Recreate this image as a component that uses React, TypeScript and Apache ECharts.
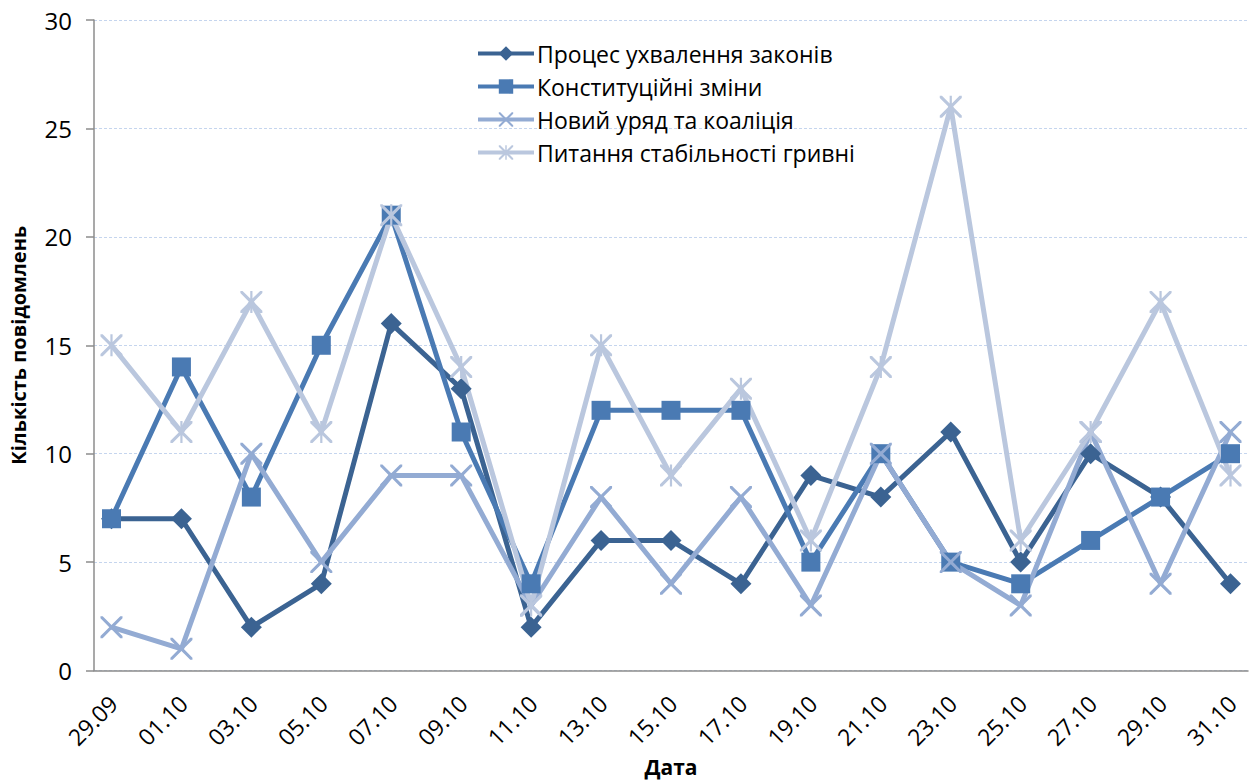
import React, { useEffect, useRef } from "react";
import * as echarts from "echarts";

// Every calendar day on the axis; the survey was taken every second day.
const days = [
  "29.09", "30.09", "01.10", "02.10", "03.10", "04.10", "05.10", "06.10",
  "07.10", "08.10", "09.10", "10.10", "11.10", "12.10", "13.10", "14.10",
  "15.10", "16.10", "17.10", "18.10", "19.10", "20.10", "21.10", "22.10",
  "23.10", "24.10", "25.10", "26.10", "27.10", "28.10", "29.10", "30.10",
  "31.10",
];

const surveyDates = [
  "29.09", "01.10", "03.10", "05.10", "07.10", "09.10", "11.10", "13.10",
  "15.10", "17.10", "19.10", "21.10", "23.10", "25.10", "27.10", "29.10",
  "31.10",
];

const seriesNames = [
  "Процес ухвалення законів",
  "Конституційні зміни",
  "Новий уряд та коаліція",
  "Питання стабільності гривні",
];

const lawProcess = [7, 7, 2, 4, 16, 13, 2, 6, 6, 4, 9, 8, 11, 5, 10, 8, 4];
const constitutional = [7, 14, 8, 15, 21, 11, 4, 12, 12, 12, 5, 10, 5, 4, 6, 8, 10];
const newGovernment = [2, 1, 10, 5, 9, 9, 3, 8, 4, 8, 3, 10, 5, 3, 11, 4, 11];
const hryvnia = [15, 11, 17, 11, 21, 14, 3, 15, 9, 13, 6, 14, 26, 6, 11, 17, 9];

const yTicks = [0, 5, 10, 15, 20, 25, 30];

const colors = ["#3b6392", "#4a7ab3", "#93abd3", "#bac7de"];

const crossPath =
  "path://M0,0 L2,0 L10,8 L18,0 L20,0 L20,2 L12,10 L20,18 L20,20 L18,20 L10,12 L2,20 L0,20 L0,18 L8,10 L0,2 Z";
const starPath =
  "path://M0,0 L2,0 L9,7 L9,0 L11,0 L11,7 L18,0 L20,0 L20,2 L12,10 L20,18 L20,20 L18,20 L11,13 L11,20 L9,20 L9,13 L2,20 L0,20 L0,18 L8,10 L0,2 Z";

const symbols = ["diamond", "rect", crossPath, starPath];
const symbolSizes = [21, 19, 22, 22];
const values = [lawProcess, constitutional, newGovernment, hryvnia];

export default function App() {
  const ref = useRef<HTMLDivElement>(null);

  useEffect(() => {
    if (!ref.current) return;
    const chart = echarts.init(ref.current, undefined, { renderer: "svg" });
    const font = "'Open Sans', 'Liberation Sans', sans-serif";

    chart.setOption({
      animation: false,
      backgroundColor: "#ffffff",
      textStyle: { fontFamily: font },
      grid: { left: 92, right: 2, top: 20, bottom: 110, containLabel: false },
      legend: {
        orient: "vertical",
        left: 476,
        top: 42,
        padding: 0,
        itemWidth: 56,
        itemHeight: 18,
        itemGap: 10,
        lineStyle: { width: 4 },
        textStyle: {
          fontFamily: font,
          fontSize: 23,
          color: "#000",
          padding: [0, 0, 0, -2],
        },
        data: seriesNames,
      },
      xAxis: {
        type: "category",
        data: days,
        boundaryGap: true,
        name: "Дата",
        nameLocation: "middle",
        nameGap: 83,
        nameTextStyle: { fontFamily: font, fontSize: 21, fontWeight: "bold", color: "#000" },
        axisLine: { lineStyle: { color: "#8c8c8c", width: 1.5 } },
        axisTick: { show: false },
        axisLabel: {
          interval: 1,
          rotate: 45,
          fontSize: 23,
          color: "#000",
          margin: 20,
          verticalAlign: "top",
          padding: [-4, 5, 0, 0],
          fontFamily: font,
        },
        splitLine: { show: false },
      },
      yAxis: {
        type: "value",
        min: yTicks[0],
        max: yTicks[yTicks.length - 1],
        interval: 5,
        name: "Кількість повідомлень",
        nameLocation: "middle",
        nameGap: 66,
        nameTextStyle: { fontFamily: font, fontSize: 20, fontWeight: "bold", color: "#000" },
        axisLine: { show: true, lineStyle: { color: "#8c8c8c", width: 1.5 } },
        axisTick: { show: true, length: 8, lineStyle: { color: "#8c8c8c", width: 1.5 } },
        axisLabel: { fontSize: 24, color: "#000", margin: 22, fontFamily: font },
        splitLine: { show: true, lineStyle: { color: "#c5d5ee", type: [3, 2], width: 1 } },
      },
      series: seriesNames.map((name, i) => ({
        name,
        type: "line",
        data: surveyDates.map((d, k) => [d, values[i][k]]),
        symbol: symbols[i],
        symbolSize: symbolSizes[i],
        showAllSymbol: true,
        lineStyle: { color: colors[i], width: 5 },
        itemStyle: { color: colors[i] },
        emphasis: { disabled: true },
      })),
    });

    return () => chart.dispose();
  }, []);

  return (
    <div
      ref={ref}
      style={{ position: "absolute", left: 0, top: 0, width: 1250, height: 782 }}
    />
  );
}
